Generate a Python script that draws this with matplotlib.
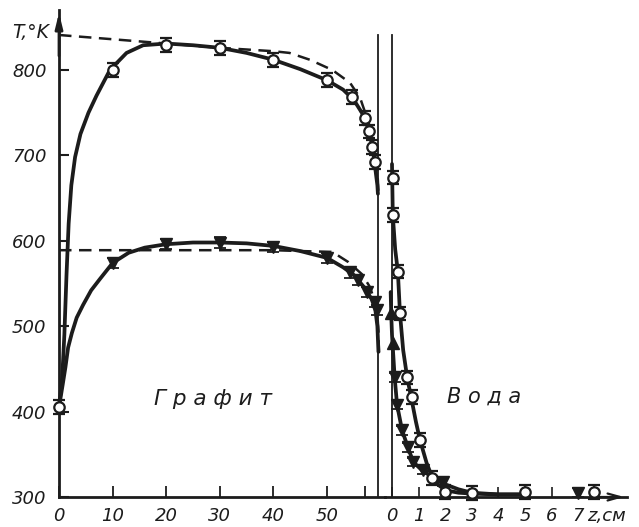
import matplotlib
matplotlib.use("Agg")
import matplotlib.pyplot as plt

# ---------------- data ----------------
# Graphite region, z in cm, T in K
g_circ_z = [0, 10, 20, 30, 40, 50, 54.7, 57.1, 57.8, 58.4, 59.0]
g_circ_T = [405, 800, 829, 826, 812, 788, 768, 744, 728, 710, 692]

g_tri_z = [10, 20, 30, 40, 50, 54.3, 55.8, 57.4, 59.0, 59.3]
g_tri_T = [574, 596, 598, 593, 580, 563, 554, 540, 528, 519]

# solid (measured) curves in graphite
g_up_curve_z = [0, 0.6, 1.0, 1.4, 1.8, 2.3, 3.0, 4.0, 5.5, 7.0, 9.5, 12.6, 15.7, 20, 25, 30, 35,
                40, 45, 50, 53, 55, 56.5, 57.5, 58.2, 58.7, 59.1, 59.4, 59.5]
g_up_curve_T = [405, 440, 490, 560, 620, 665, 698, 725, 750, 770, 800, 820, 829, 831, 829, 826, 820,
                812, 801, 788, 777, 765, 750, 735, 718, 700, 680, 665, 655]

g_lo_curve_z = [0, 0.7, 1.2, 1.7, 2.4, 3.3, 4.5, 6.0, 7.6, 10, 13, 16, 20, 25, 30, 35, 40, 45,
                50, 53, 55, 57, 58.3, 59.0, 59.4, 59.6]
g_lo_curve_T = [405, 432, 452, 475, 492, 510, 525, 542, 555, 574, 586, 592, 596, 598, 598, 597, 594,
                588, 580, 569, 560, 545, 532, 520, 500, 470]

# dashed (calculated) curves in graphite
g_up_dash_z = [0, 10, 20, 30, 40, 43, 46.8, 51, 54.3, 56.2, 57.4, 58.0, 58.8, 59.3, 59.5, 59.6]
g_up_dash_T = [841, 836, 831, 826, 822, 820, 812, 800, 785, 767, 745, 733, 710, 690, 670, 656]

g_lo_dash_z = [0, 10, 20, 30, 40, 45, 51, 54, 56.5, 58, 59.3, 59.6, 59.7]
g_lo_dash_T = [589, 589, 589, 589, 589, 588, 587, 575, 561, 546, 522, 495, 464]

# Water region, z in cm
w_circ_z = [0.02, 0.03, 0.22, 0.3, 0.57, 0.75, 1.05, 1.5, 2.0, 3.0, 5.0, 7.6]
w_circ_T = [674, 630, 564, 515, 440, 417, 367, 322, 306, 305, 306, 306]

w_tri_up_z = [-0.03, 0.04]
w_tri_up_T = [515, 480]

w_tri_z = [0.1, 0.19, 0.38, 0.6, 0.8, 1.17, 1.9, 7.0]
w_tri_T = [440, 408, 378, 358, 341, 332, 318, 305]

w_up_curve_z = [0.0, 0.03, 0.12, 0.22, 0.3, 0.42, 0.57, 0.75, 0.9, 1.05, 1.3, 1.5, 1.75, 2.0, 2.5, 3.0, 4.0, 5.0]
w_up_curve_T = [690, 630, 590, 564, 515, 472, 440, 412, 388, 367, 340, 324, 314, 308, 305, 304, 303, 303]

w_lo_curve_z = [-0.05, -0.03, 0.0, 0.05, 0.1, 0.19, 0.38, 0.6, 0.8, 1.17, 1.5, 1.9, 2.5, 3.0, 4.0, 5.0]
w_lo_curve_T = [540, 515, 490, 465, 440, 408, 378, 358, 341, 330, 324, 316, 309, 305, 303, 303]

interface_graphite_z = 59.5
interface_water_z = 0.0
interface_top_T = 841

g_ticks = [0, 10, 20, 30, 40, 50]
g_minor = [57]
w_ticks = [0, 1, 2, 3, 4, 5, 6, 7]
y_ticks = [300, 400, 500, 600, 700, 800]

# ---------------- figure ----------------
W, H = 639, 527
fig = plt.figure(figsize=(W / 100, H / 100), dpi=100)
fig.patch.set_facecolor("white")
ink = "#1c1c1c"

x0, xint, xend = 59, 385, 627
ybot, ytop = 497, 10
bottom = (H - ybot) / H
height = (ybot - ytop) / H

axg = fig.add_axes([x0 / W, bottom, (xint - x0) / W, height])
axw = fig.add_axes([xint / W, bottom, (xend - xint) / W, height], sharey=axg)

ylim = (300, 300 + (ybot - ytop) / 0.854)
axg.set_xlim(0, (xint - x0) / 5.36)
axw.set_xlim((xint - 392) / 26.6, (xend - 392) / 26.6)
axg.set_ylim(*ylim)

for ax in (axg, axw):
    ax.set_facecolor("none")
    for s in ("top", "right"):
        ax.spines[s].set_visible(False)
    ax.spines["bottom"].set_linewidth(2.0)
    ax.spines["bottom"].set_color(ink)
axw.spines["left"].set_visible(False)
axg.spines["left"].set_linewidth(2.0)
axg.spines["left"].set_color(ink)

font = dict(family="DejaVu Sans", style="italic", size=13)

axg.set_yticks(y_ticks)
axg.set_yticklabels([str(v) for v in y_ticks], fontdict=font, color=ink)
axg.tick_params(axis="y", direction="in", length=7, width=1.5, pad=9, colors=ink)
axg.set_xticks(g_ticks)
axg.set_xticklabels([str(v) for v in g_ticks], fontdict=font, color=ink)
axg.set_xticks(g_minor, minor=True)
axg.tick_params(axis="x", which="both", direction="in", length=8, width=1.3, pad=7, colors=ink)

axw.set_xticks(w_ticks)
axw.set_xticklabels([str(v) for v in w_ticks], fontdict=font, color=ink)
axw.tick_params(axis="x", direction="in", length=7, width=1.2, pad=7, colors=ink)
axw.tick_params(axis="y", left=False, labelleft=False)

# axis arrows
axg.annotate("", xy=(0, 1.0), xycoords="axes fraction", xytext=(0, 0.9),
             arrowprops=dict(arrowstyle="-|>,head_length=0.9,head_width=0.22", color=ink, lw=2.0))
axw.annotate("", xy=(1.0, 0), xycoords="axes fraction", xytext=(0.85, 0),
             arrowprops=dict(arrowstyle="->,head_length=0.9,head_width=0.25", color=ink, lw=1.6))

# interface lines
axg.plot([interface_graphite_z] * 2, [300, interface_top_T], color=ink, lw=1.3, clip_on=False)
axw.plot([interface_water_z] * 2, [300, interface_top_T], color=ink, lw=1.3, clip_on=False)

# dashed curves
dash = (0, (5, 3))
axg.plot(g_up_dash_z, g_up_dash_T, color=ink, lw=1.8, linestyle=dash, clip_on=False)
axg.plot(g_lo_dash_z, g_lo_dash_T, color=ink, lw=1.8, linestyle=dash, clip_on=False)

# solid curves
axg.plot(g_up_curve_z, g_up_curve_T, color=ink, lw=2.7, clip_on=False, solid_capstyle="round")
axg.plot(g_lo_curve_z, g_lo_curve_T, color=ink, lw=2.7, clip_on=False, solid_capstyle="round")
axw.plot(w_up_curve_z, w_up_curve_T, color=ink, lw=2.7, clip_on=False, solid_capstyle="round")
axw.plot(w_lo_curve_z, w_lo_curve_T, color=ink, lw=2.7, clip_on=False, solid_capstyle="round")

# markers
ckw = dict(fmt="o", ms=7.5, mfc="white", mec=ink, mew=1.6, ecolor=ink, elinewidth=1.3,
           capsize=4.5, capthick=1.4, clip_on=False, zorder=5)
axg.errorbar(g_circ_z, g_circ_T, yerr=8, **ckw)
axw.errorbar(w_circ_z, w_circ_T, yerr=8, **ckw)

tkw = dict(ms=8, mfc=ink, mec=ink, ecolor=ink, elinewidth=1.2, capsize=4, capthick=1.3,
           clip_on=False, zorder=5)
axg.errorbar(g_tri_z, g_tri_T, yerr=6, fmt="v", **tkw)
axw.errorbar(w_tri_z, w_tri_T, yerr=5, fmt="v", **tkw)
axw.errorbar(w_tri_up_z, w_tri_up_T, fmt="^", **tkw)

# texts
fig.text(12 / W, 1 - 33 / H, "T,°K", fontdict=dict(font, size=13.5), color=ink, ha="left", va="center")
fig.text(587 / W, 1 - 516 / H, "z,см", fontdict=font, color=ink, ha="left", va="center")
axg.text(28.7, 415, "Г р а ф и т", fontdict=dict(family="DejaVu Sans", style="italic", size=15.5),
         color=ink, ha="center", va="center")
axw.text(3.46, 418, "В о д а", fontdict=dict(family="DejaVu Sans", style="italic", size=15),
         color=ink, ha="center", va="center")

fig.savefig("out.png", dpi=100, facecolor="white")
